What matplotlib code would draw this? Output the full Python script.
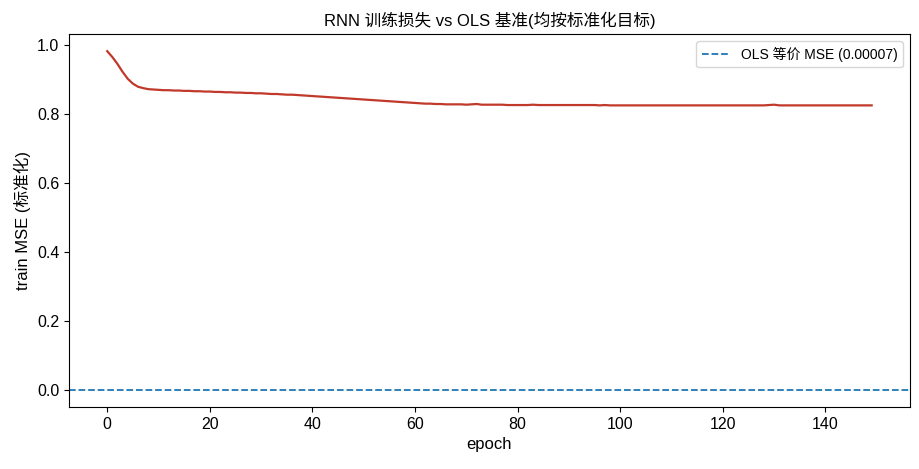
import matplotlib
matplotlib.use("Agg")
import matplotlib.pyplot as plt

plt.rcParams['font.family'] = ['Liberation Sans', 'Noto Sans CJK SC', 'DejaVu Sans']
plt.rcParams['axes.unicode_minus'] = False

# 每个 epoch 的训练损失 (标准化)
train_mse = [
    0.982, 0.965, 0.945, 0.922, 0.902, 0.888, 0.879, 0.875, 0.872, 0.871,
    0.870, 0.869, 0.869, 0.868, 0.868, 0.867, 0.867, 0.866, 0.866, 0.865,
    0.865, 0.864, 0.864, 0.863, 0.863, 0.862, 0.862, 0.861, 0.861, 0.860,
    0.860, 0.859, 0.858, 0.858, 0.857, 0.856, 0.856, 0.855, 0.854, 0.853,
    0.852, 0.851, 0.850, 0.849, 0.848, 0.847, 0.846, 0.845, 0.844, 0.843,
    0.842, 0.841, 0.840, 0.839, 0.838, 0.837, 0.836, 0.835, 0.834, 0.833,
    0.832, 0.831, 0.830, 0.830, 0.829, 0.829, 0.828, 0.828, 0.828, 0.828,
    0.827, 0.828, 0.829, 0.827, 0.827, 0.827, 0.827, 0.827, 0.826, 0.826,
    0.826, 0.826, 0.826, 0.827, 0.826, 0.826, 0.826, 0.826, 0.826, 0.826,
    0.826, 0.826, 0.826, 0.826, 0.826, 0.826, 0.825, 0.826, 0.825, 0.825,
    0.825, 0.825, 0.825, 0.825, 0.825, 0.825, 0.825, 0.825, 0.825, 0.825,
    0.825, 0.825, 0.825, 0.825, 0.825, 0.825, 0.825, 0.825, 0.825, 0.825,
    0.825, 0.825, 0.825, 0.825, 0.825, 0.825, 0.825, 0.825, 0.825, 0.826,
    0.827, 0.825, 0.825, 0.825, 0.825, 0.825, 0.825, 0.825, 0.825, 0.825,
    0.825, 0.825, 0.825, 0.825, 0.825, 0.825, 0.825, 0.825, 0.825, 0.825,
]
epochs = list(range(len(train_mse)))
ols_mse = 0.00007

fig, ax = plt.subplots(figsize=(9.2, 4.69), dpi=100)
ax.plot(epochs, train_mse, color="#c0392b", lw=1.6)
ax.axhline(ols_mse, color="#1f77b4", ls="--", lw=1.3, label=f"OLS 等价 MSE ({ols_mse:.5f})")
ax.set_title("RNN 训练损失 vs OLS 基准(均按标准化目标)", fontsize=12)
ax.set_xlabel("epoch", fontsize=12)
ax.set_ylabel("train MSE (标准化)", fontsize=12)
ax.tick_params(labelsize=11.5)
ax.legend(loc="upper right", fontsize=10)
fig.subplots_adjust(left=0.075, right=0.989, bottom=0.132, top=0.927)
fig.savefig("out.png")
